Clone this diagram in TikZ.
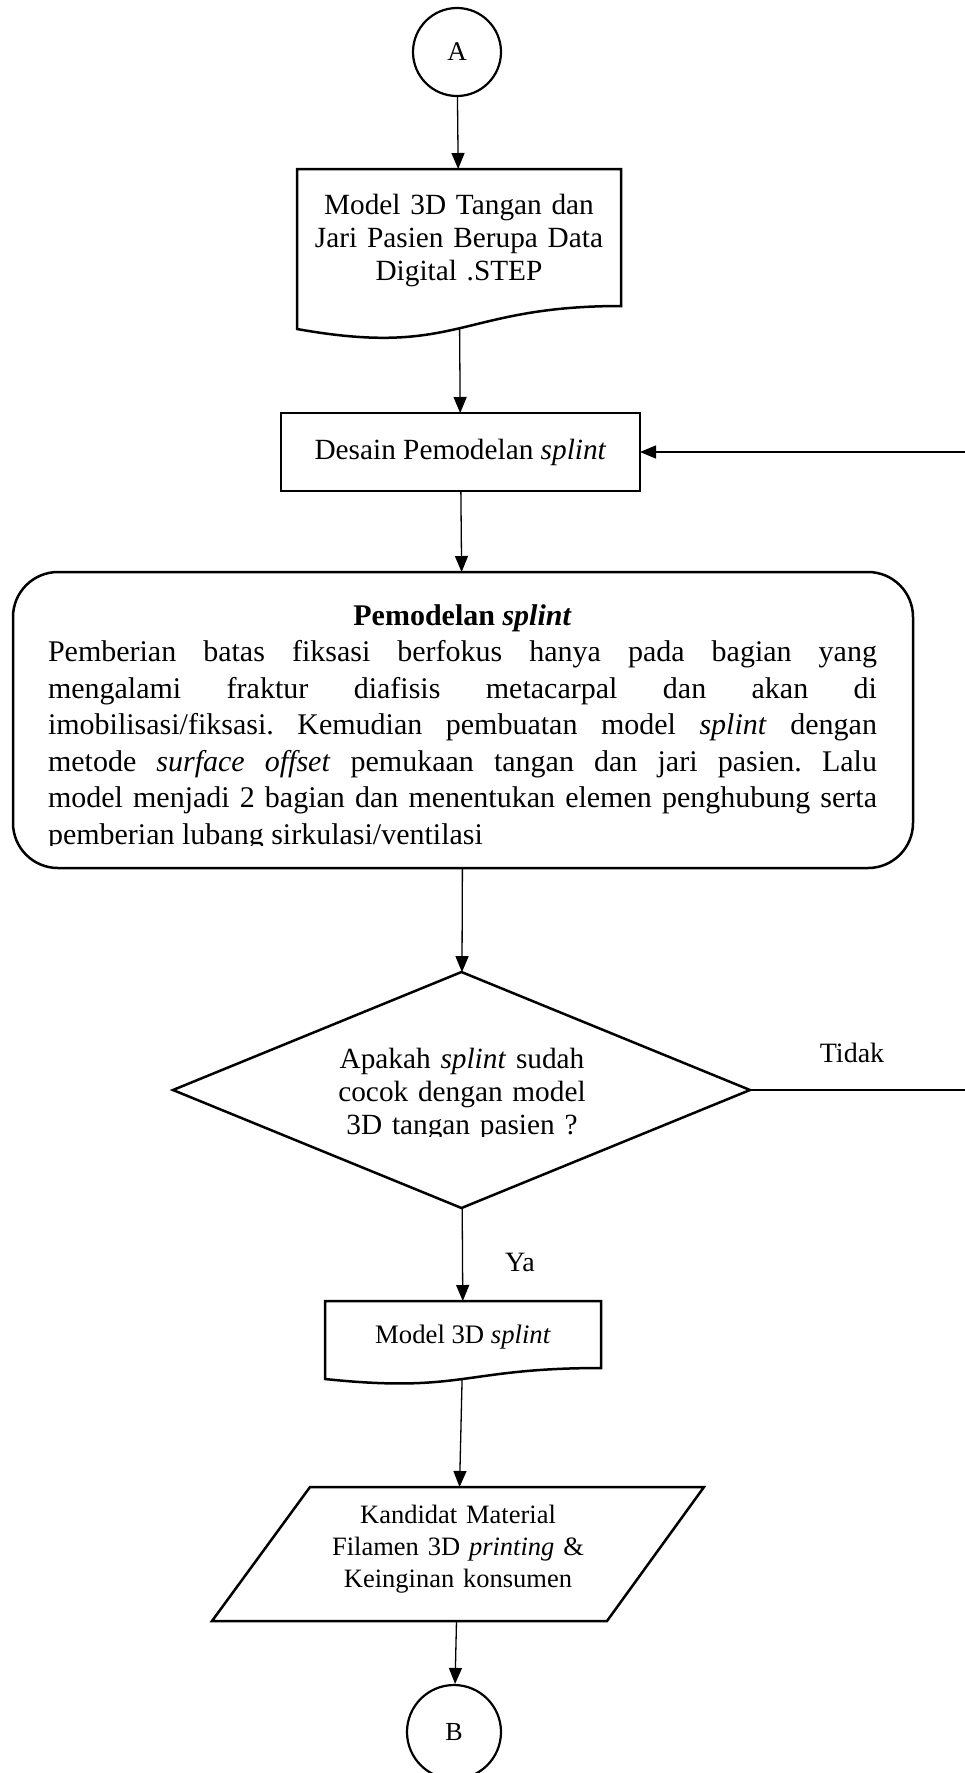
\documentclass[tikz,border=0pt]{standalone}
\usepackage{fontspec}
\setmainfont{Liberation Serif}[Ligatures={TeX,NoCommon}]
\usetikzlibrary{shapes.geometric,arrows.meta}
\frenchspacing

% one justified line of the given width (font interword glue, which stretches)
\newcommand{\fullline}[1]{\hbox to 829pt{\spaceskip=0pt\xspaceskip=0pt #1}}

\begin{document}
\begin{tikzpicture}[x=1pt,y=-1pt,
  conn/.style={line width=1.3pt,-{Triangle[width=13pt,length=16pt]}},
  outline/.style={line width=2.5pt,line join=miter},
  frame/.style={inner sep=0pt,outer sep=0pt},
  bigtxt/.style={font=\fontsize{29.3}{33}\selectfont,inner sep=0pt},
  smalltxt/.style={font=\fontsize{26.5}{32}\selectfont,inner sep=0pt},
  connector/.style={circle,draw,line width=2.2pt,inner sep=0pt,font=\fontsize{27}{30}\selectfont}]

\clip (0,0) rectangle (965,1773);

% off-page connector at the top
\node[connector,minimum size=88pt] (A) at (457,52) {A};

% document: hand and finger model
\node[frame,minimum width=324pt,minimum height=160pt] (doc1) at (459,249) {};
\draw[outline] (doc1.north west) -- (doc1.north east) -- (621,306)
  .. controls (459,306) and (459,358) .. (doc1.south west) -- cycle;
\node[bigtxt,text width=320pt,align=center,anchor=base] (doc1text) at (459,214)
  {Model 3D Tangan dan\\Jari Pasien Berupa Data\\Digital .STEP};

% process: splint design
\node[draw,outline,frame,minimum width=359pt,minimum height=78pt,bigtxt] (desain) at (460.5,452)
  {Desain Pemodelan \textit{splint}};

% process: splint modelling (rounded box with clipped text)
\node[draw,outline,frame,rounded corners=45pt,minimum width=900pt,minimum height=296pt] (model) at (463,720) {};
\begin{scope}
  \clip (13,572) rectangle (913,845);
  \node[font=\fontsize{30}{36.5}\selectfont,inner sep=0pt,text width=829pt,align=left,anchor=base] (modeltext) at (462.5,625)
    {\fullline{\hfil\textbf{Pemodelan \textit{splint}}\hfil}
     \fullline{Pemberian batas fiksasi berfokus hanya pada bagian yang}
     \fullline{mengalami fraktur diafisis metacarpal dan akan di}
     \fullline{imobilisasi/fiksasi. Kemudian pembuatan model \textit{splint} dengan}
     \fullline{metode \textit{surface offset} pemukaan tangan dan jari pasien. Lalu}
     \fullline{model menjadi 2 bagian dan menentukan elemen penghubung serta}
     \fullline{pemberian lubang sirkulasi/ventilasi\hfil}};
\end{scope}

% decision
\node[diamond,draw,outline,frame,minimum width=577pt,minimum height=236pt] (dec) at (461.5,1090) {};
\begin{scope}
  \clip (173,972) rectangle (750,1136);
  \node[bigtxt,text width=300pt,align=center,anchor=base] (dectext) at (462,1068)
    {Apakah \textit{splint} sudah\\cocok dengan model\\3D tangan pasien ?};
\end{scope}
\node[font=\fontsize{28}{30}\selectfont,inner sep=0pt,anchor=base] (tidak) at (852,1062) {Tidak};
\node[font=\fontsize{28}{30}\selectfont,inner sep=0pt,anchor=base] (ya) at (520,1271) {Ya};

% document: splint model
\node[frame,minimum width=276pt,minimum height=78pt] (splint) at (463,1340) {};
\draw[outline] (splint.north west) -- (splint.north east) -- (601,1368)
  .. controls (463,1368) and (463,1393.5) .. (splint.south west) -- cycle;
\node[font=\fontsize{26.7}{30}\selectfont,inner sep=0pt,anchor=base] (splinttext) at (463,1343)
  {Model 3D \textit{splint}};

% input: material candidates
\node[frame,minimum width=492pt,minimum height=134pt] (para) at (458,1554) {};
\draw[outline] ([xshift=98pt]para.north west) -- (para.north east)
  -- ([xshift=-97pt]para.south east) -- (para.south west) -- cycle;
\node[smalltxt,text width=330pt,align=center,anchor=base] (paratext) at (458,1523)
  {Kandidat Material\\Filamen 3D \textit{printing} \&\\Keinginan konsumen};

% off-page connector at the bottom
\node[connector,minimum size=94pt,font=\fontsize{26}{30}\selectfont] (B) at (454,1732) {B};

% flow
\draw[conn] (A) -- (doc1);
\draw[conn] (doc1) -- (desain);
\draw[conn] (desain) -- (model);
\draw[conn] (model) -- (dec);
\draw[conn] (dec) -- (splint);
\draw[conn] (splint) -- (para);
\draw[conn] (para) -- (B);
\coordinate (loopc) at (990,1090);
\draw[conn] (dec.east) -- (loopc) |- (desain.east);
\end{tikzpicture}
\end{document}
